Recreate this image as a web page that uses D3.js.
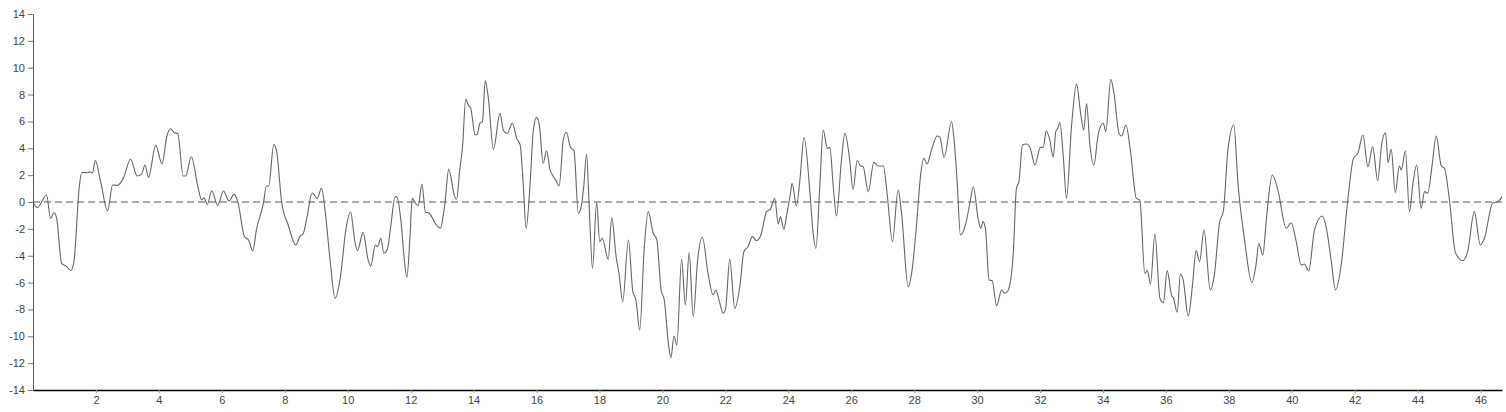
<!DOCTYPE html>
<html>
<head>
<meta charset="utf-8">
<script src="https://cdn.jsdelivr.net/npm/d3@7"></script>
<style>
  html, body { margin: 0; padding: 0; background: #fff; }
  svg { display: block; }
  .tick text { font-family: "Liberation Sans", Arial, sans-serif; font-size: 11px; fill: #444; }
</style>
</head>
<body>
<svg id="chart" width="1506" height="412"></svg>
<script>
const xs = [
  0, 0.14, 0.43, 0.56, 0.67, 0.75, 0.91, 1.07, 1.2, 1.3, 1.47, 1.55, 1.76, 1.79, 1.89, 1.98,
  2.15, 2.37, 2.53, 2.68, 2.87, 3.1, 3.31, 3.45, 3.56, 3.67, 3.9, 4.1, 4.25, 4.37, 4.49, 4.6,
  4.77, 4.85, 5.03, 5.25, 5.36, 5.43, 5.54, 5.68, 5.87, 6.05, 6.23, 6.39, 6.52, 6.71, 6.86, 6.98,
  7.1, 7.32, 7.42, 7.49, 7.65, 7.74, 7.9, 8.11, 8.35, 8.48, 8.59, 8.71, 8.87, 9.03, 9.17, 9.28,
  9.44, 9.6, 9.77, 9.94, 10.09, 10.23, 10.31, 10.49, 10.65, 10.73, 10.88, 10.95, 11.05, 11.15, 11.26, 11.36,
  11.51, 11.57, 11.71, 11.8, 11.88, 11.98, 12.05, 12.16, 12.24, 12.36, 12.47, 12.56, 12.82, 12.95, 13.03, 13.09,
  13.21, 13.4, 13.46, 13.56, 13.65, 13.75, 13.83, 13.91, 14.05, 14.12, 14.2, 14.28, 14.37, 14.47, 14.63, 14.84,
  14.95, 15.07, 15.23, 15.37, 15.48, 15.58, 15.67, 15.79, 15.9, 16.0, 16.09, 16.21, 16.32, 16.43, 16.51, 16.64,
  16.72, 16.85, 16.95, 17.08, 17.19, 17.33, 17.43, 17.5, 17.59, 17.67, 17.78, 17.91, 18.01, 18.09, 18.28, 18.39,
  18.53, 18.62, 18.74, 18.92, 19.06, 19.16, 19.28, 19.42, 19.55, 19.71, 19.82, 19.96, 20.06, 20.19, 20.27, 20.37,
  20.46, 20.61, 20.73, 20.85, 20.98, 21.12, 21.27, 21.45, 21.61, 21.7, 21.8, 21.93, 22.01, 22.14, 22.3, 22.46,
  22.59, 22.72, 22.86, 22.99, 23.13, 23.31, 23.43, 23.57, 23.68, 23.75, 23.86, 23.94, 24.07, 24.12, 24.26, 24.37,
  24.5, 24.69, 24.79, 24.88, 25.0, 25.11, 25.24, 25.32, 25.43, 25.53, 25.69, 25.8, 25.94, 26.06, 26.19, 26.3,
  26.38, 26.54, 26.72, 26.86, 27.02, 27.14, 27.31, 27.49, 27.6, 27.81, 27.92, 28.08, 28.2, 28.31, 28.41, 28.55,
  28.73, 28.82, 28.95, 29.19, 29.26, 29.37, 29.47, 29.63, 29.77, 29.88, 30.04, 30.12, 30.19, 30.27, 30.38, 30.48,
  30.62, 30.78, 30.88, 30.99, 31.15, 31.25, 31.33, 31.44, 31.57, 31.68, 31.84, 32.01, 32.1, 32.2, 32.31, 32.42,
  32.5, 32.56, 32.63, 32.74, 32.84, 33.0, 33.16, 33.29, 33.39, 33.48, 33.58, 33.71, 33.85, 34.01, 34.09, 34.25,
  34.35, 34.51, 34.59, 34.73, 34.87, 35.06, 35.17, 35.33, 35.41, 35.51, 35.65, 35.81, 35.92, 36.04, 36.19, 36.23,
  36.36, 36.46, 36.55, 36.71, 36.84, 36.96, 37.07, 37.21, 37.41, 37.54, 37.7, 37.83, 37.97, 38.16, 38.29, 38.5,
  38.73, 38.87, 38.95, 39.08, 39.19, 39.38, 39.56, 39.82, 39.98, 40.14, 40.3, 40.4, 40.54, 40.72, 40.97, 41.09,
  41.25, 41.39, 41.57, 41.78, 41.96, 42.1, 42.26, 42.42, 42.57, 42.73, 42.86, 42.98, 43.06, 43.16, 43.29, 43.42,
  43.48, 43.61, 43.74, 43.85, 43.97, 44.11, 44.22, 44.32, 44.46, 44.59, 44.75, 44.85, 45.01, 45.2, 45.43, 45.59,
  45.8, 45.99, 46.12, 46.39, 46.55, 46.68
];
const ys = [
  0, -0.42, 0.52, -1.22, -0.8, -1.2, -4.57, -4.8, -5.1, -4.45, 1.14, 2.2, 2.18, 2.25, 2.18, 3.08,
  1.51, -0.65, 1.27, 1.24, 1.76, 3.18, 1.94, 2.08, 2.75, 1.84, 4.22, 2.83, 4.86, 5.46, 5.16, 5.1,
  1.94, 1.94, 3.37, 1.02, 0.15, 0.32, -0.17, 0.84, -0.25, 0.82, 0.07, 0.57, -0.1, -2.53, -2.88, -3.65,
  -2.08, -0.1, 1.19, 1.19, 4.27, 3.8, 0.02, -1.71, -3.2, -2.58, -2.33, -1.09, 0.69, 0.27, 1.02, -0.6,
  -4.32, -7.17, -5.56, -2.08, -0.74, -2.95, -3.62, -2.28, -4.32, -4.76, -3.2, -3.32, -2.7, -3.82, -3.52, -1.96,
  0.4, 0.35, -1.84, -4.32, -5.6, -2.58, 0.27, -0.1, -0.27, 1.34, -0.77, -0.79, -1.71, -1.96, -1.09, -0.1,
  2.43, 0.4, 0.2, 2.38, 4.12, 7.67, 7.22, 6.97, 4.99, 5.06, 5.86, 5.98, 9.03, 7.72, 3.92, 6.6,
  5.31, 5.11, 5.86, 4.74, 4.24, 1.27, -1.96, 1.14, 5.36, 6.3, 5.73, 2.88, 3.82, 2.38, 2.0, 1.51,
  1.19, 4.62, 5.19, 4.07, 3.82, -0.84, -0.22, 1.14, 3.57, -0.1, -4.94, -0.05, -2.95, -2.7, -4.27, -1.17,
  -4.07, -5.31, -7.42, -2.83, -6.67, -7.3, -9.53, -3.57, -0.72, -2.33, -2.78, -6.55, -7.3, -10.52, -11.59, -9.98,
  -10.65, -4.27, -7.67, -3.77, -8.54, -4.32, -2.63, -5.31, -6.92, -6.55, -7.3, -8.29, -7.92, -4.27, -7.92, -6.3,
  -3.7, -3.33, -2.58, -2.88, -2.46, -0.72, -0.55, 0.27, -1.64, -1.09, -2.03, -1.09, 0.65, 1.39, -0.27, 1.64,
  4.81, 0.65, -2.33, -3.45, 1.14, 5.36, 4.0, 4.07, 1.14, -1.04, 3.13, 5.11, 3.37, 0.94, 3.08, 2.68,
  2.63, 0.77, 2.95, 2.68, 2.68, 0.65, -2.95, 0.89, -0.84, -6.3, -5.31, -1.59, 1.89, 3.25, 2.83, 3.87,
  4.91, 4.81, 3.33, 5.98, 4.86, 1.39, -2.46, -1.71, -0.1, 1.14, -1.34, -1.96, -1.46, -2.08, -5.81, -5.86,
  -7.74, -6.55, -6.8, -6.55, -3.82, 1.02, 1.51, 4.24, 4.32, 4.07, 2.75, 4.07, 4.07, 5.31, 4.62, 3.33,
  5.24, 5.48, 5.91, 3.37, 0.27, 5.61, 8.78, 6.6, 5.36, 7.34, 4.37, 2.75, 5.06, 5.86, 5.24, 9.13,
  8.09, 5.11, 4.91, 5.73, 3.87, 0.27, 0.15, -5.31, -5.11, -6.1, -2.38, -7.17, -7.49, -5.11, -7.02, -7.1,
  -8.2, -5.36, -5.81, -8.49, -6.3, -3.62, -4.44, -2.08, -6.55, -5.43, -1.59, -0.6, 3.87, 5.73, 1.39, -2.83,
  -6.0, -4.57, -3.08, -3.95, -1.34, 2.01, 0.89, -1.96, -1.54, -2.95, -4.69, -4.62, -5.14, -2.08, -1.04, -1.84,
  -4.32, -6.55, -4.69, 0.15, 3.25, 3.62, 4.99, 2.63, 4.12, 1.59, 4.37, 5.16, 2.93, 3.92, 0.69, 2.68,
  2.38, 3.82, -0.72, 1.39, 2.75, -0.47, 0.77, 0.65, 2.75, 4.91, 2.68, 2.51, 0.15, -3.77, -4.37, -3.7,
  -0.72, -3.2, -2.7, -0.05, 0.02, 0.4
];
const yTickValues = [-14, -12, -10, -8, -6, -4, -2, 0, 2, 4, 6, 8, 10, 12, 14];
const xTickValues = [2, 4, 6, 8, 10, 12, 14, 16, 18, 20, 22, 24, 26, 28, 30, 32, 34, 36, 38, 40, 42, 44, 46];

const data = xs.map((x, i) => ({ x, y: ys[i] }));

const svg = d3.select("#chart");
const margin = { left: 33, right: 4, top: 14, bottom: 22 };
const W = 1506, H = 412;

const x = d3.scaleLinear().domain([0, d3.max(xs)]).range([margin.left, W - margin.right]);
const y = d3.scaleLinear().domain([-14, 14]).range([H - margin.bottom, margin.top]);

// zero reference line
svg.append("line")
  .attr("x1", x(0)).attr("x2", x(d3.max(xs)))
  .attr("y1", y(0)).attr("y2", y(0))
  .attr("stroke", "#555").attr("stroke-width", 1)
  .attr("stroke-dasharray", "7,4");

// series line
svg.append("path")
  .datum(data)
  .attr("fill", "none")
  .attr("stroke", "#666")
  .attr("stroke-width", 1.1)
  .attr("d", d3.line().x(d => x(d.x)).y(d => y(d.y)).curve(d3.curveMonotoneX));

const fmt = d => String(d);

// y axis
const gy = svg.append("g")
  .attr("transform", `translate(${margin.left},0)`)
  .call(d3.axisLeft(y).tickValues(yTickValues).tickFormat(fmt).tickSize(5).tickPadding(3).tickSizeOuter(0));
gy.select(".domain").attr("stroke", "#555");
gy.selectAll(".tick line").attr("stroke", "#777");

// x axis
const gx = svg.append("g")
  .attr("transform", `translate(0,${H - margin.bottom})`)
  .call(d3.axisBottom(x).tickValues(xTickValues).tickFormat(fmt).tickSize(3).tickPadding(3).tickSizeOuter(0));
gx.select(".domain").attr("stroke", "#000").attr("stroke-width", 1.5);
gx.selectAll(".tick line").attr("stroke", "#999");
</script>
</body>
</html>
